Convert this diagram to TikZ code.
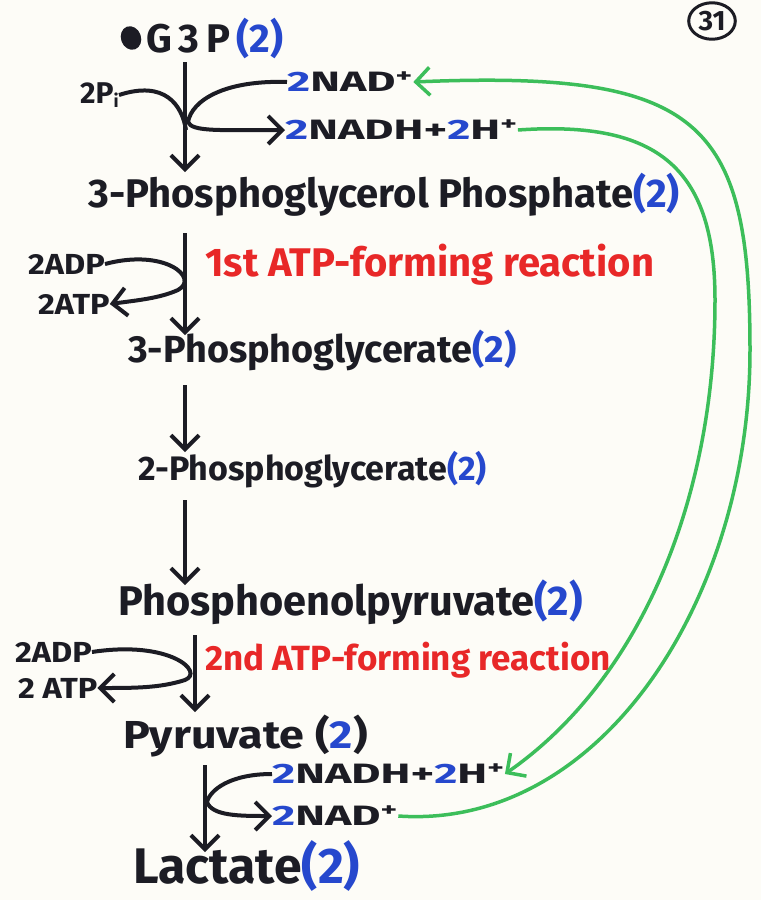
\documentclass[tikz,border=0pt]{standalone}
\usepackage{fontspec}
\setmainfont{Fira Sans}
\usetikzlibrary{shapes.geometric, arrows.meta}
\definecolor{ink}{RGB}{28,28,36}
\definecolor{bluepen}{RGB}{38,72,205}
\definecolor{redpen}{RGB}{232,40,40}
\definecolor{greenpen}{RGB}{60,190,90}
\definecolor{paper}{RGB}{253,252,247}
\newcommand{\two}{\textcolor{bluepen}{2}}
\newcommand{\cnt}{\textcolor{bluepen}{(2)}}
\newcommand{\wide}[2]{\scalebox{#1}[1]{#2}}

\begin{document}
\begin{tikzpicture}[x=1pt, y=-1pt, every node/.style={inner sep=0pt, text=ink},
  cmpd/.style={anchor=west, font=\fontsize{#1}{#1}\selectfont\bfseries}, cmpd/.default=40,
  side/.style={anchor=west, font=\fontsize{#1}{#1}\selectfont\bfseries}, side/.default=28,
  redtext/.style={anchor=west, text=redpen, font=\fontsize{#1}{#1}\selectfont\bfseries},
  rxn/.style={draw=ink, line width=4pt, -{Straight Barb[length=14pt, width=28pt]}},
  loop/.style={draw=greenpen, line width=3.5pt, -{Straight Barb[length=14pt, width=28pt]}}]
				\fill[paper] (0,0) rectangle (761,900);
				\useasboundingbox (0,0) rectangle (761,900);
				
				% compounds down the pathway
				\node[fill=ink, ellipse, minimum width=20pt, minimum height=24pt, rotate=20] (blot) at (131,38){};
				\node[cmpd=40] (cmp0) at (146,38){G\,3\,P\,\cnt};
				\node[cmpd=40] (cmp1) at (88,195){3-Phosphoglycerol Phosphate\cnt};
				\node[cmpd=37.8] (cmp2) at (128,350){3-Phosphoglycerate\cnt};
				\node[cmpd=34] (cmp3) at (138,470){2-Phosphoglycerate\cnt};
				\node[cmpd=41.5] (cmp4) at (118,602){Phosphoenolpyruvate\cnt};
				\node[cmpd=39] (cmp5) at (123,736){\wide{1.15}{Pyruvate (\textcolor{bluepen}{2})}};
				\node[cmpd=50] (cmp6) at (133,866){Lactate\cnt};
				
				% main arrows
				\coordinate (a0) at (185,62);  \coordinate (b0) at (185,172);
				\coordinate (a1) at (185,233); \coordinate (b1) at (185,335);
				\coordinate (a2) at (185,385); \coordinate (b2) at (185,452);
				\coordinate (a3) at (185,500); \coordinate (b3) at (185,585);
				\coordinate (a4) at (195,635); \coordinate (b4) at (195,712);
				\coordinate (a5) at (205,765); \coordinate (b5) at (205,852);
				\foreach \i in {0,...,5}
					\draw[rxn] (a\i) -- (b\i);
				
				% step 1: G3P
				\node[side=30] (pi) at (80,95){2P\raisebox{-4pt}{\fontsize{18}{18}\selectfont i}};
				\node[side] (nad1) at (287,82){\wide{1.6}{\two NAD\textsuperscript{+}}};
				\node[side] (nadh1) at (285,130){\wide{1.6}{\two NADH+\two H\textsuperscript{+}}};
				\draw[ink, line width=4pt] (pi.east) .. controls (165,80) and (182,105) .. (186,130);
				\draw[rxn] (nad1.west) .. controls (225,80) and (192,100) .. (188,122)
					.. controls (192,132) and (220,130) .. (nadh1.west);
				
				% step 2: 1st ATP
				\node[side=29] (adp1) at (28,264){\wide{1.12}{2ADP}};
				\node[side=29] (atp1) at (38,304){\wide{1.12}{2ATP}};
				\node[redtext=40] (red1) at (205,265){1st ATP-forming reaction};
				\draw[rxn] (adp1.east) .. controls (165,248) and (200,278) .. (178,290)
					.. controls (160,298) and (140,300) .. (atp1.east);
				
				% step 5: 2nd ATP
				\node[side=29] (adp2) at (15,652){\wide{1.12}{2ADP}};
				\node[side=29] (atp2) at (18,688){\wide{1.12}{2 ATP}};
				\node[redtext=35] (red2) at (205,660){2nd ATP-forming reaction};
				\draw[rxn] (adp2.east) .. controls (170,640) and (205,672) .. (185,680)
					.. controls (160,688) and (135,688) .. (atp2.east);
				
				% step 6: lactate
				\node[side] (nadh2) at (272,774){\wide{1.6}{\two NADH+\two H\textsuperscript{+}}};
				\node[side] (nad2) at (272,816){\wide{1.6}{\two NAD\textsuperscript{+}}};
				\draw[rxn] (nadh2.west) .. controls (230,774) and (210,790) .. (207,802)
					.. controls (212,816) and (240,816) .. (nad2.west);
				
				% NAD recycling
				\draw[loop] (nadh1.east) .. controls (660,120) and (715,170) .. (715,300)
					.. controls (715,500) and (640,680) .. (nadh2.east);
				\draw[loop] (nad2.east) .. controls (600,830) and (750,600) .. (750,350)
					.. controls (750,120) and (700,70) .. (nad1.east);
				
				% page number
				\node[draw=ink, line width=3pt, ellipse, inner sep=3pt, font=\fontsize{28}{28}\selectfont\bfseries] (page) at (712,21){31};
\end{tikzpicture}
\end{document}
